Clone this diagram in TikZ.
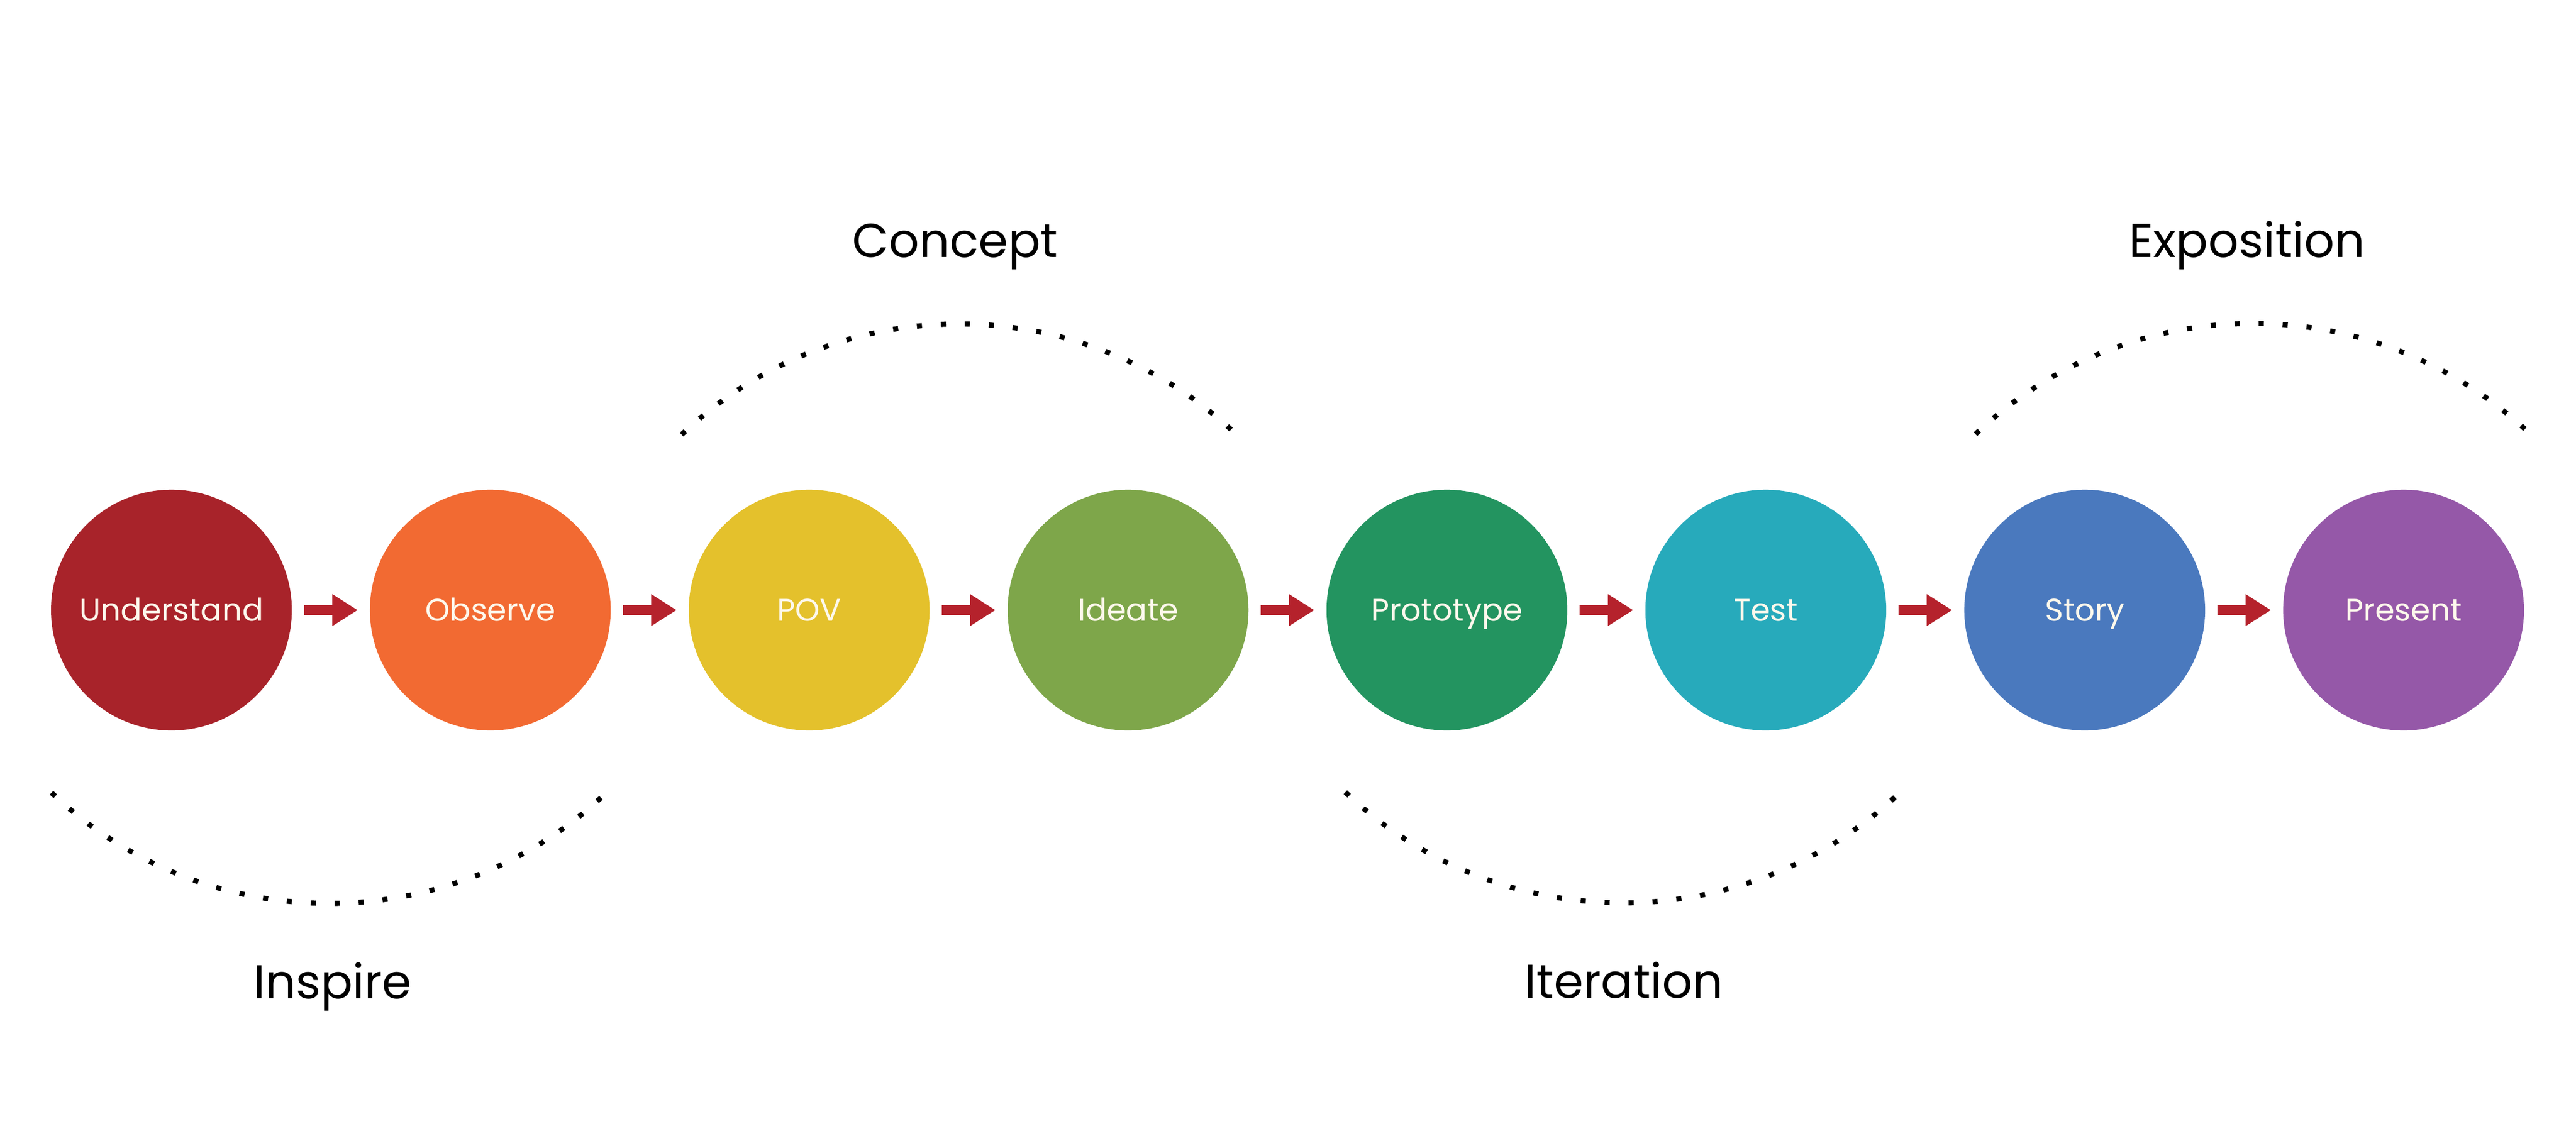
\documentclass[tikz,border=0pt]{standalone}
\usepackage{fontspec}
\setmainfont{Poppins}
\usetikzlibrary{arrows.meta, positioning}
\definecolor{understandc}{RGB}{168, 35, 42}
\definecolor{observec}{RGB}{242, 106, 50}
\definecolor{povc}{RGB}{228, 193, 44}
\definecolor{ideatec}{RGB}{126, 166, 74}
\definecolor{prototypec}{RGB}{35, 148, 96}
\definecolor{testc}{RGB}{39, 170, 187}
\definecolor{storyc}{RGB}{74, 121, 190}
\definecolor{presentc}{RGB}{149, 88, 168}
\definecolor{arrowred}{RGB}{181, 34, 44}
\definecolor{labeltext}{RGB}{253, 248, 236}

\begin{document}
\begin{tikzpicture}[
    stage/.style={circle, minimum size=4.72cm, inner sep=0pt, text=labeltext,
                  font=\fontsize{17.5}{17.5}\selectfont, text height=0.54cm, text depth=0.12cm},
    flow/.style={-{Triangle[length=0.5cm, width=0.59cm]}, line width=0.19cm, draw=arrowred,
                 shorten <=0.23cm, shorten >=0.23cm},
    phase/.style={anchor=base, font=\fontsize{26.5}{26.5}\selectfont},
    trail/.style={line width=0.1cm, dash pattern=on 0.1cm off 0.37cm}]

    \fill[white] (0,0) rectangle (50.49,22.36);

    % Stages
    \node[stage, fill=understandc] (und) at (3.36, 10.40) {Understand};
    \node[stage, fill=observec] (obs) at (9.61, 10.40) {Observe};
    \node[stage, fill=povc] (pov) at (15.86, 10.40) {POV};
    \node[stage, fill=ideatec] (ide) at (22.11, 10.40) {Ideate};
    \node[stage, fill=prototypec] (pro) at (28.36, 10.40) {Prototype};
    \node[stage, fill=testc] (tst) at (34.61, 10.40) {Test};
    \node[stage, fill=storyc] (sto) at (40.86, 10.40) {Story};
    \node[stage, fill=presentc] (pre) at (47.11, 10.40) {Present};

    % Arrows
    \draw[flow] (und) -- (obs);
    \draw[flow] (obs) -- (pov);
    \draw[flow] (pov) -- (ide);
    \draw[flow] (ide) -- (pro);
    \draw[flow] (pro) -- (tst);
    \draw[flow] (tst) -- (sto);
    \draw[flow] (sto) -- (pre);

    % Phases
    \draw[trail] (1.01, 6.82) arc[start angle=226.5, end angle=313.5, radius=7.9];
    \draw[trail] (13.36, 13.84) arc[start angle=133.5, end angle=46.5, radius=7.9];
    \draw[trail] (26.37, 6.83) arc[start angle=226.5, end angle=313.5, radius=7.9];
    \draw[trail] (38.72, 13.85) arc[start angle=133.5, end angle=46.5, radius=7.9];

    \node[phase] (inspire) at (6.52, 2.79) {Inspire};
    \node[phase] (concept) at (18.72, 17.32) {Concept};
    \node[phase] (iteration) at (31.83, 2.80) {Iteration};
    \node[phase] (exposition) at (44.04, 17.32) {Exposition};
\end{tikzpicture}
\end{document}
